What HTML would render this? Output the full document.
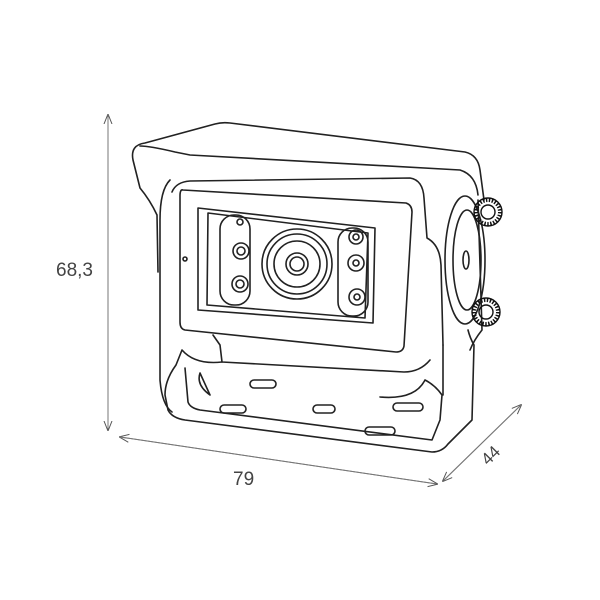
<!DOCTYPE html>
<html><head><style>
html,body{margin:0;padding:0;background:#fff;}
svg{display:block;}
text{font-family:"Liberation Sans",sans-serif;fill:#444;}
</style></head><body>
<svg width="600" height="600" viewBox="0 0 600 600" xmlns="http://www.w3.org/2000/svg">
<defs>
<marker id="a" markerWidth="10" markerHeight="10" refX="9" refY="5" orient="auto" markerUnits="userSpaceOnUse">
<path d="M0,1 L10,5 L0,9" fill="none" stroke="#555" stroke-width="1"/>
</marker>
</defs>
<g fill="none" stroke="#777" stroke-width="1">
<line x1="108" y1="430" x2="108" y2="115" marker-end="url(#a)"/>
<line x1="108" y1="115" x2="108" y2="430" marker-end="url(#a)"/>
<line x1="437" y1="484" x2="120" y2="437" marker-end="url(#a)"/>
<line x1="120" y1="437" x2="437" y2="484" marker-end="url(#a)"/>
<line x1="443" y1="481" x2="521" y2="405" marker-end="url(#a)"/>
<line x1="521" y1="405" x2="443" y2="481" marker-end="url(#a)"/>
</g>
<text x="56" y="276" font-size="19">68,3</text>
<text x="233" y="485" font-size="19">79</text>
<text x="0" y="0" font-size="17" transform="translate(488,466) rotate(-45)">44</text>

<g fill="none" stroke="#222" stroke-width="1.6" stroke-linejoin="round" stroke-linecap="round">
<path d="M158,272 L157,215 Q150,200 140,188 L133,160 Q130,145 145,143 L215,124 Q222,122 230,123 L465,152 Q478,155 480,170 L484,200"/>
<path d="M140,146 Q150,146 175,152 L190,155 L460,170 Q476,175 478,195"/>
<path d="M170,180 Q160,190 160,220 L160,380 Q162,405 172,412"/>
<path d="M172,192 Q176,182 190,181 L410,178 Q423,180 424,198 L427,238 Q440,245 441,265 L443,345"/>
<path d="M183,190 L406,203 Q412,205 412,212 L404,346 Q403,352 396,352 L185,330 Q180,329 180,322 L180,196 Q180,189 183,190 Z"/>
<path d="M198,208 L375,228 L373,323 L198,310 Z"/>
<path d="M208,213 L368,233 L365,318 L207,305 Z"/>
<rect x="220" y="215" width="30" height="90" rx="14"/>
<rect x="338" y="228" width="30" height="88" rx="14"/>
<circle cx="241" cy="251" r="8"/><circle cx="241" cy="251" r="4"/>
<circle cx="240" cy="284" r="8"/><circle cx="240" cy="284" r="4"/>
<circle cx="240" cy="222" r="3"/>
<circle cx="356" cy="237" r="7"/><circle cx="356" cy="237" r="3"/>
<circle cx="356" cy="263" r="8"/><circle cx="356" cy="263" r="3"/>
<circle cx="357" cy="297" r="8"/><circle cx="357" cy="297" r="3"/>
<circle cx="297" cy="264" r="35"/>
<circle cx="297" cy="264" r="30"/>
<circle cx="297" cy="264" r="23"/>
<circle cx="297" cy="264" r="11"/>
<circle cx="297" cy="264" r="7"/>
<circle cx="185" cy="259" r="2"/>
<path d="M213,335 L220,345 L222,362 L404,372 Q420,372 430,360"/>
<path d="M222,362 Q195,365 182,350 L176,365 Q165,380 165,395 L168,410 Q172,418 185,420 L432,452 Q442,452 448,444 L472,420 L474,345 Q470,338 468,330"/>
<path d="M185,368 L188,402 Q190,408 200,410 L432,440 L440,420 L442,395 Q435,385 425,380 Q415,400 380,397"/>
<path d="M443,345 L443,395"/>
<path d="M200,373 Q196,385 210,395 Z"/>
<rect x="250" y="380" width="26" height="8" rx="4"/>
<rect x="220" y="405" width="26" height="8" rx="4"/>
<rect x="313" y="405" width="22" height="8" rx="4"/>
<rect x="393" y="403" width="30" height="8" rx="4"/>
<rect x="365" y="427" width="30" height="8" rx="4"/>
<ellipse cx="465" cy="260" rx="20" ry="64"/>
<ellipse cx="467" cy="260" rx="14" ry="50"/>
<ellipse cx="466" cy="260" rx="3" ry="9"/>
<path d="M478,200 L482,330 Q474,340 470,350"/>
</g>
<g fill="none" stroke="#111">
<circle cx="488" cy="212" r="12" stroke-width="4" stroke-dasharray="1.5 1.5"/>
<circle cx="488" cy="212" r="14" stroke-width="1.4"/>
<circle cx="488" cy="212" r="7" stroke-width="1.4"/>
<circle cx="486" cy="312" r="12" stroke-width="4" stroke-dasharray="1.5 1.5"/>
<circle cx="486" cy="312" r="14" stroke-width="1.4"/>
<circle cx="486" cy="312" r="7" stroke-width="1.4"/>
</g>
</svg>
</body></html>
